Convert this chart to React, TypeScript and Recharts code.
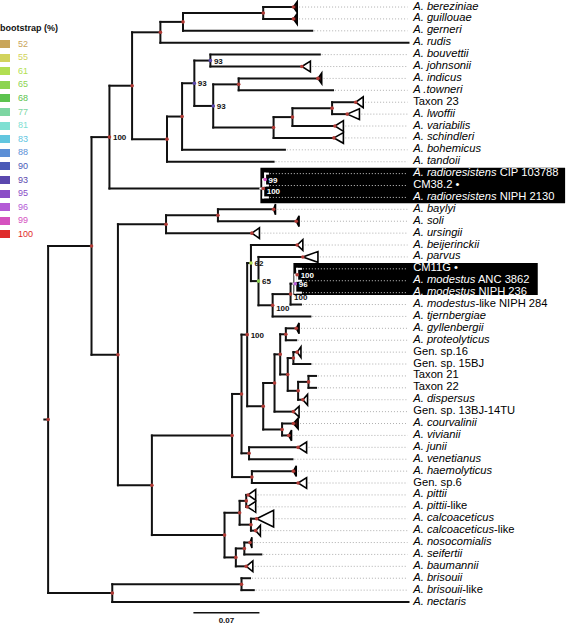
import React from 'react';
import { ScatterChart, Scatter, XAxis, YAxis, ReferenceLine, ReferenceArea } from 'recharts';

// ---- tip labels, top to bottom (italic part + roman part) ----
const TAXA_ITALIC = [
  'A. bereziniae', 'A. guillouae', 'A. gerneri', 'A. rudis', 'A. bouvettii', 'A. johnsonii', 'A. indicus',
  'A .towneri', '', 'A. lwoffii', 'A. variabilis', 'A. schindleri', 'A. bohemicus', 'A. tandoii',
  'A. radioresistens', '', 'A. radioresistens', 'A. baylyi', 'A. soli', 'A. ursingii', 'A. beijerinckii',
  'A. parvus', '', 'A. modestus', 'A. modestus', 'A. modestus', 'A. tjernbergiae', 'A. gyllenbergii',
  'A. proteolyticus', '', '', '', '', 'A. dispersus', '', 'A. courvalinii', 'A. vivianii', 'A. junii',
  'A. venetianus', 'A. haemolyticus', '', 'A. pittii', 'A. pittii', 'A. calcoaceticus', 'A. calcoaceticus',
  'A. nosocomialis', 'A. seifertii', 'A. baumannii', 'A. brisouii', 'A. brisouii', 'A. nectaris',
];
const TAXA_ROMAN = [
  '', '', '', '', '', '', '',
  '', 'Taxon 23', '', '', '', '', '',
  ' CIP 103788', 'CM38.2 \u2022', ' NIPH 2130', '', '', '', '',
  '', 'CM11G \u2022', ' ANC 3862', ' NIPH 236', '-like NIPH 284', '', '',
  '', 'Gen. sp.16', 'Gen. sp. 15BJ', 'Taxon 21', 'Taxon 22', '', 'Gen. sp. 13BJ-14TU', '', '', '',
  '', '', 'Gen. sp.6', '', '-like', '', '-like',
  '', '', '', '', '-like', '',
];

// root-to-tip distance of each tip (x 1000 substitutions/site)
const TIP_DEPTH = [
  260, 260, 280, 382, 288, 269, 286, 302, 326, 317, 304, 303, 251, 239,
  233, 233, 233, 239, 263, 216, 264, 270, 268, 268, 268, 268, 278, 263,
  263, 264, 278, 284, 284, 270, 260, 260, 255, 265, 259, 260, 265, 212,
  211, 221, 220, 214, 226, 210, 214, 218, 382,
];
// collapsed clades: deepest member distance (null = single tip)
const CLADE_DEPTH: (number | null)[] = [
  264, 264, null, null, null, 278, 290, null, 334, 330, 313, 313, null, null,
  null, null, null, 241, 266, 224, 270, 286, null, null, null, null, null, 266,
  null, 268, null, null, null, 275, 266, 265, 258, 274, null, 263, 274, 220,
  220, 239, 225, 216, null, 217, null, null, null,
];
const CLADE_KIND = [
  's', 's', '', '', '', 'o', 's', '', 'o', 'o', 'o', 'o', '', '',
  '', '', '', 's', 's', 'o', 'o', 'o', '', '', '', '', '', 's',
  '', 'o', '', '', '', 'o', 'o', 's', 's', 'o', '', 's', 'o', 'o',
  'o', 'o', 'o', 's', '', 'o', '', '', '',
];
const CLADE_SIZE: Record<number, number> = { 43: 0.7 };

// internal nodes: id, distance from root, children (tip index or node id), bootstrap
const NODES: [string, number, (number | string)[], number | null][] = [
  ['root', 0, ['A', 'nect'], null],
  ['A', 46, ['B', 'C'], null],
  ['B', 65, ['D', 'rr'], 100],
  ['D', 89, ['E', 'F'], null],
  ['E', 119, ['G', 3], null],
  ['G', 143, ['H', 2], null],
  ['H', 228, [0, 1], null],
  ['F', 126, ['I', 13], null],
  ['I', 142, ['J', 12], null],
  ['J', 155, ['K', 'L'], 93],
  ['K', 172, [4, 5], 93],
  ['L', 175, ['M', 'N'], 93],
  ['M', 202, [6, 7], null],
  ['N', 239, ['O', 11], null],
  ['O', 259, ['P', 10], null],
  ['P', 301, [8, 9], null],
  ['rr', 228, ['r99', 16], 100],
  ['r99', 230, [14, 15], 99],
  ['C', 74, ['R', 'Q'], null],
  ['R', 125, ['S', 19], null],
  ['S', 180, [17, 18], null],
  ['Q', 110, ['T', 'U'], null],
  ['T', 195, ['V', 'W'], null],
  ['V', 205, ['X', 'Y'], null],
  ['X', 211, ['m62', 'X2'], 100],
  ['m62', 215, [20, 'm65'], 62],
  ['m65', 223, [21, 'm100'], 65],
  ['m100', 238, ['mc', 26], 100],
  ['mc', 257, ['mb', 25], 100],
  ['mb', 262, ['ma', 24], 96],
  ['ma', 264, [22, 23], 100],
  ['X2', 228, ['X3', 'X4'], null],
  ['X3', 240, ['X5', 34], null],
  ['X5', 246, ['gp', 'X6'], null],
  ['gp', 252, [27, 28], null],
  ['X6', 254, ['X7', 'X8'], null],
  ['X7', 260, [29, 30], null],
  ['X8', 265, ['X9', 33], null],
  ['X9', 276, [31, 32], null],
  ['X4', 248, [35, 36], null],
  ['Y', 213, [37, 38], null],
  ['W', 216, [39, 40], null],
  ['U', 187, ['U1', 'U2'], null],
  ['U1', 203, ['U3', 'U4'], null],
  ['U3', 210, [41, 42], null],
  ['U4', 215, [43, 44], null],
  ['U2', 199, ['U5', 47], null],
  ['U5', 208, [45, 46], null],
  ['nect', 68, ['Bz', 50], null],
  ['Bz', 205, [48, 49], null],
];
const LABEL_BELOW = ['mc', 'm100', 'rr'];

// highlighted groups: row bounds and distance bounds
const HIGHLIGHT_ROWS = [[13.5, 16.5], [21.5, 24.2]];
const HIGHLIGHT_DEPTH = [[225, 548], [260, 519]];

// bootstrap legend
const BOOT_VALUES = [52, 55, 61, 65, 68, 77, 81, 83, 88, 90, 93, 95, 96, 99, 100];
const BOOT_COLORS = ['#c9a55a', '#d2d35c', '#b2df52', '#8cd450', '#5cc34e', '#7dd6a2', '#7ee0d2', '#62c6df',
  '#5c8fd6', '#4a5ab7', '#5b48ae', '#8a4cc6', '#b45ad6', '#d552bf', '#df2b2b'];

const SCALE_LEN = 70; // 0.07
const SCALE_START = 154;
const LABEL_X = 387;
const LEADER_END = 381;
const FONT = "'Liberation Sans', Arial, Helvetica, sans-serif";
const NODE_RED = '#b23b36';

// ---- layout from the tree ----
const nodeMap = new Map(NODES.map((n) => [n[0], n]));
const yCache = new Map<string, number>();
const yOf = (k: number | string): number => {
  if (typeof k === 'number') return k;
  if (yCache.has(k)) return yCache.get(k)!;
  const kids = nodeMap.get(k)![2];
  const y = (yOf(kids[0]) + yOf(kids[kids.length - 1])) / 2;
  yCache.set(k, y);
  return y;
};
const xOf = (k: number | string) => (typeof k === 'number' ? TIP_DEPTH[k] : nodeMap.get(k)![1]);

const boxes = HIGHLIGHT_ROWS.map((r, i) => ({ y1: r[0], y2: r[1], x1: HIGHLIGHT_DEPTH[i][0], x2: HIGHLIGHT_DEPTH[i][1] }));
const boxAt = (y: number) => boxes.find((b) => y >= b.y1 && y <= b.y2);

type Seg = { x1: number; y1: number; x2: number; y2: number; white: boolean };
const segs: Seg[] = [];
const rootY = yOf('root');
segs.push({ x1: -4, y1: rootY, x2: 0, y2: rootY, white: false });
NODES.forEach(([id, depth, kids]) => {
  const ya = yOf(kids[0]);
  const yb = yOf(kids[kids.length - 1]);
  const vb = boxAt(ya) && boxAt(yb);
  segs.push({ x1: depth, y1: ya, x2: depth, y2: yb, white: !!vb && depth >= vb.x1 });
  kids.forEach((k) => {
    const y = yOf(k);
    const x2 = xOf(k);
    const b = boxAt(y);
    if (b && x2 > b.x1) {
      if (depth < b.x1) segs.push({ x1: depth, y1: y, x2: b.x1, y2: y, white: false });
      segs.push({ x1: Math.max(depth, b.x1), y1: y, x2, y2: y, white: true });
    } else {
      segs.push({ x1: depth, y1: y, x2, y2: y, white: false });
    }
  });
});

const leaves = TAXA_ITALIC.map((it, i) => ({
  x: LABEL_X,
  y: i,
  italic: it,
  roman: TAXA_ROMAN[i],
  white: !!boxAt(i),
  end: CLADE_DEPTH[i] ?? TIP_DEPTH[i],
}));

const supportColor = (s: number | null) => {
  if (s == null || s === 100) return NODE_RED;
  let idx = 0;
  BOOT_VALUES.forEach((v, i) => { if (v <= s) idx = i; });
  return BOOT_COLORS[idx];
};

const dots = [
  ...NODES.map(([id, depth, , s]) => ({ x: depth, y: yOf(id), color: supportColor(s) })),
  ...leaves.filter((l, i) => CLADE_DEPTH[i] != null).map((l) => ({ x: TIP_DEPTH[l.y], y: l.y, color: NODE_RED })),
];

const supports = NODES.filter((n) => n[3] != null).map(([id, depth, , s]) => {
  const y = yOf(id);
  const b = boxAt(y);
  return { x: depth, y, text: String(s), white: !!b && depth >= b.x1, below: LABEL_BELOW.includes(id) };
});

const scaleLabel = [{ x: SCALE_START + SCALE_LEN / 2, y: 51.55, text: '0.07' }];

const Triangle = (solid: boolean) => (p: any) => {
  const { x, y, width, height } = p;
  const pts = `${x},${y + height / 2} ${x + width},${y} ${x + width},${y + height}`;
  return <polygon points={pts} fill={solid ? '#3a1212' : '#fff'} stroke="#000" strokeWidth={1.6} strokeLinejoin="miter" />;
};

const TaxonLabel = (p: any) => {
  const { cx, cy, payload } = p;
  return (
    <text x={cx} y={cy - 1.5} dominantBaseline="central" fontSize={11.2} fontFamily={FONT}
      fill={payload.white ? '#fff' : '#000'} style={{ whiteSpace: 'pre' }}>
      {payload.italic ? <tspan fontStyle="italic">{payload.italic}</tspan> : null}
      {payload.roman ? <tspan>{payload.roman}</tspan> : null}
    </text>
  );
};

const NodeDot = (p: any) => <circle cx={p.cx} cy={p.cy} r={1.8} fill={p.payload.color} />;

const SupportLabel = (p: any) => {
  const { cx, cy, payload } = p;
  return (
    <text x={cx + 3.5} y={payload.below ? cy + 3.5 : cy + 0.5} dominantBaseline="central" fontSize={8}
      fontWeight="bold" fontFamily={FONT} fill={payload.white ? '#fff' : '#111'}>
      {payload.text}
    </text>
  );
};

const ScaleText = (p: any) => (
  <text x={p.cx} y={p.cy} textAnchor="middle" dominantBaseline="central" fontSize={8} fontWeight="bold" fontFamily={FONT} fill="#111">
    {p.payload.text}
  </text>
);

const BootLegend = () => (
  <div style={{ position: 'absolute', left: 0, top: 0, fontFamily: FONT }}>
    <div style={{ position: 'absolute', left: 0, top: 23, fontSize: 9, fontWeight: 'bold', whiteSpace: 'nowrap', color: '#111' }}>
      bootstrap (%)
    </div>
    {BOOT_VALUES.map((v, i) => (
      <React.Fragment key={v}>
        <div style={{ position: 'absolute', left: 0, top: 40 + i * 13.6, width: 10, height: 8, background: BOOT_COLORS[i] }} />
        <div style={{ position: 'absolute', left: 18, top: 38.5 + i * 13.6, fontSize: 9, lineHeight: '11px', color: BOOT_COLORS[i] }}>
          {v}
        </div>
      </React.Fragment>
    ))}
  </div>
);

export default function App() {
  return (
    <div style={{ position: 'absolute', left: 0, top: 0, width: 567, height: 625, background: '#fff' }}>
      <ScatterChart width={567} height={625} margin={{ top: 0, right: 0, bottom: 0, left: 0 }}>
        <XAxis type="number" dataKey="x" domain={[-51, 550]} hide allowDataOverflow />
        <YAxis type="number" dataKey="y" domain={[-0.59, 51.93]} reversed hide allowDataOverflow />
        {boxes.map((b, i) => (
          <ReferenceArea key={`box-${i}`} x1={b.x1} x2={b.x2} y1={b.y1} y2={b.y2} fill="#000" fillOpacity={1} stroke="none" />
        ))}
        {leaves.filter((l) => l.end + 2 < LEADER_END).map((l) => (
          <ReferenceLine key={`lead-${l.y}`} segment={[{ x: l.end + 2, y: l.y }, { x: LEADER_END, y: l.y }]}
            stroke={l.white ? '#fff' : '#9a9a9a'} strokeWidth={0.8} strokeDasharray="1 2" />
        ))}
        {segs.map((s, i) => (
          <ReferenceLine key={`seg-${i}`} segment={[{ x: s.x1, y: s.y1 }, { x: s.x2, y: s.y2 }]}
            stroke={s.white ? '#fff' : '#111'} strokeWidth={2} strokeLinecap="square" />
        ))}
        {leaves.filter((l, i) => CLADE_DEPTH[i] != null).map((l) => {
          const half = CLADE_SIZE[l.y] ?? 0.45;
          return (
            <ReferenceArea key={`clade-${l.y}`} x1={TIP_DEPTH[l.y]} x2={CLADE_DEPTH[l.y]!} y1={l.y - half} y2={l.y + half}
              shape={Triangle(CLADE_KIND[l.y] === 's')} />
          );
        })}
        <ReferenceLine segment={[{ x: SCALE_START, y: 50.9 }, { x: SCALE_START + SCALE_LEN, y: 50.9 }]} stroke="#111" strokeWidth={1.5} />
        <Scatter data={dots} shape={NodeDot} isAnimationActive={false} />
        <Scatter data={supports} shape={SupportLabel} isAnimationActive={false} />
        <Scatter data={leaves} shape={TaxonLabel} isAnimationActive={false} />
        <Scatter data={scaleLabel} shape={ScaleText} isAnimationActive={false} />
      </ScatterChart>
      <BootLegend />
    </div>
  );
}
